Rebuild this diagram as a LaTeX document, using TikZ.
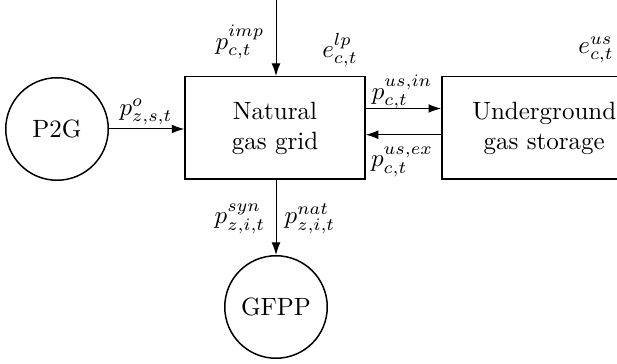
\documentclass[tikz,border=0pt]{standalone}
\usetikzlibrary{arrows.meta}
\begin{document}
\begin{tikzpicture}[x=0.4pt,y=-0.4pt,
  blk/.style={draw,semithick,minimum width=72pt,minimum height=41pt,inner sep=0pt,align=center},
  circ/.style={draw,semithick,circle,minimum size=41pt,inner sep=0pt},
  flow/.style={-{Latex[length=5pt,width=3.5pt]},line width=0.4pt},
  lbl/.style={inner sep=0pt}]
\useasboundingbox (0,0) rectangle (617,364);
\node[blk] (grid) at (275,128) {Natural\\gas grid};
\node[blk,minimum width=82pt,anchor=west] (us) at (441,128) {Underground\\gas storage};
\node[circ] (p2g) at (57,129) {P2G};
\node[circ] (gfpp) at (276,307) {GFPP};
\coordinate (top) at (276,0);
\draw[flow] (p2g.east) -- (grid.west |- p2g.east);
\draw[flow] (top) -- (top |- grid.north);
\draw[flow] ([yshift=-13pt]grid.north east) -- ([yshift=-13pt]us.north west);
\draw[flow] ([yshift=-23.5pt]us.north west) -- ([yshift=-23.5pt]grid.north east);
\draw[flow] (gfpp.north |- grid.south) -- (gfpp.north);
\node[lbl] (limp) at (240,42) {$p^{imp}_{c,t}$};
\node[lbl] (llp) at (340,50) {$e^{lp}_{c,t}$};
\node[lbl] (lo) at (146,112) {$p^{o}_{z,s,t}$};
\node[lbl] (lin) at (402,92) {$p^{us,in}_{c,t}$};
\node[lbl] (lex) at (402,162) {$p^{us,ex}_{c,t}$};
\node[lbl] (lus) at (596,50) {$e^{us}_{c,t}$};
\node[lbl] (lsyn) at (240,219) {$p^{syn}_{z,i,t}$};
\node[lbl] (lnat) at (310,219) {$p^{nat}_{z,i,t}$};
\end{tikzpicture}
\end{document}
